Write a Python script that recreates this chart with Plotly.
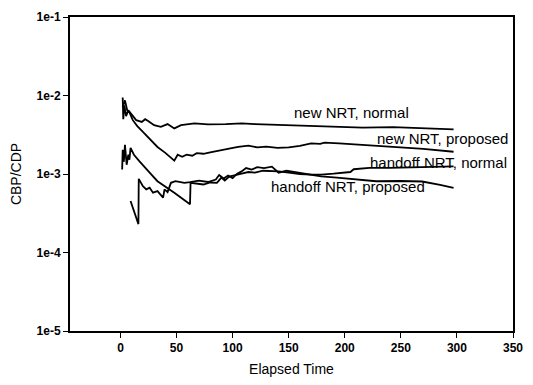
import plotly.graph_objects as go

# Blocking probability ratio (CBP/CDP) over elapsed time for four schemes
t_new_normal = [2, 2.5, 3.5, 5, 7, 10, 14, 19, 22, 25, 30, 36, 42, 48, 54, 66, 78,
                94, 108, 120, 138, 155, 173, 190, 216, 243, 269, 297]
v_new_normal = [9.45e-3, 5.0e-3, 7.5e-3, 5.45e-3, 6.48e-3, 5.77e-3, 4.85e-3, 4.61e-3,
                4.99e-3, 4.71e-3, 4.19e-3, 3.99e-3, 4.32e-3, 3.81e-3, 4.19e-3, 4.41e-3,
                4.28e-3, 4.32e-3, 4.41e-3, 4.32e-3, 4.25e-3, 4.13e-3, 4.07e-3, 3.99e-3,
                3.90e-3, 3.96e-3, 3.85e-3, 3.70e-3]

t_new_prop = [2, 4, 6, 8, 11, 15, 20, 26, 33, 40, 46, 48, 51, 55, 59, 64, 68, 74, 80,
              86, 92, 98, 105, 114, 122, 130, 140, 150, 160, 170, 178, 182, 195, 210,
              230, 250, 270, 297]
v_new_prop = [7.07e-3, 8.66e-3, 6.48e-3, 6.11e-3, 4.85e-3, 4.07e-3, 3.45e-3, 2.79e-3,
              2.21e-3, 1.86e-3, 1.56e-3, 1.48e-3, 1.76e-3, 1.66e-3, 1.76e-3, 1.71e-3,
              1.84e-3, 1.81e-3, 1.88e-3, 1.97e-3, 2.03e-3, 2.12e-3, 2.21e-3, 2.30e-3,
              2.18e-3, 2.23e-3, 2.15e-3, 2.18e-3, 2.28e-3, 2.46e-3, 2.42e-3, 2.51e-3,
              2.45e-3, 2.38e-3, 2.28e-3, 2.21e-3, 2.09e-3, 1.92e-3]

t_ho_normal = [1.5, 2, 3, 4, 5.5, 7, 8, 9, 12, 14, 17, 25, 33, 48, 62, 62.5, 68, 74,
               80, 86, 90, 93, 97, 103, 108, 114, 120, 127, 134, 141, 150, 160, 170,
               179, 190, 200, 205, 208, 215, 222, 240, 260, 280, 297]
v_ho_normal = [1.14e-3, 2.03e-3, 1.43e-3, 2.35e-3, 1.31e-3, 1.76e-3, 1.52e-3, 2.15e-3,
               1.76e-3, 1.61e-3, 1.45e-3, 1.08e-3, 8.09e-4, 5.78e-4, 4.11e-4, 7.72e-4,
               7.57e-4, 7.35e-4, 7.79e-4, 7.72e-4, 9.01e-4, 8.25e-4, 9.27e-4, 9.83e-4,
               1.01e-3, 1.06e-3, 1.04e-3, 1.10e-3, 1.09e-3, 1.08e-3, 1.04e-3, 9.97e-4,
               9.83e-4, 9.83e-4, 1.01e-3, 1.04e-3, 1.06e-3, 1.15e-3, 1.17e-3, 1.20e-3,
               1.20e-3, 1.22e-3, 1.24e-3, 1.25e-3]

t_ho_prop = [9, 12, 16, 16.3, 20, 23, 26, 29, 33, 38, 39.3, 42, 45, 49, 57, 62, 70, 78,
             85, 88, 92, 96, 100, 104, 108, 112, 117, 122, 128, 135, 141, 148, 155, 165,
             179, 193, 210, 228, 250, 269, 285, 297]
v_ho_prop = [4.53e-4, 3.36e-4, 2.30e-4, 8.67e-4, 7.00e-4, 6.36e-4, 6.68e-4, 5.78e-4,
             6.05e-4, 5.00e-4, 6.36e-4, 5.88e-4, 7.72e-4, 8.09e-4, 7.72e-4, 7.86e-4,
             8.25e-4, 7.91e-4, 8.50e-4, 9.69e-4, 8.75e-4, 9.54e-4, 8.88e-4, 1.01e-3,
             1.08e-3, 1.19e-3, 1.14e-3, 1.22e-3, 1.19e-3, 1.24e-3, 1.04e-3, 1.10e-3,
             1.06e-3, 1.01e-3, 9.35e-4, 9.01e-4, 8.63e-4, 8.09e-4, 8.14e-4, 8.02e-4,
             7.25e-4, 6.64e-4]

series = [
    ("new NRT, normal", t_new_normal, v_new_normal),
    ("new NRT, proposed", t_new_prop, v_new_prop),
    ("handoff NRT, normal", t_ho_normal, v_ho_normal),
    ("handoff NRT, proposed", t_ho_prop, v_ho_prop),
]

# Curve labels: (text, left x, log10 y)
labels = [
    ("new NRT, normal", 153, -2.214),
    ("new NRT, proposed", 227, -2.554),
    ("handoff NRT, normal", 221, -2.856),
    ("handoff NRT, proposed", 132, -3.159),
]

y_ticks = [1e-5, 1e-4, 1e-3, 1e-2, 1e-1]
y_ticktext = ["1e-5", "1e-4", "1e-3", "1e-2", "1e-1"]
x_ticks = [0, 50, 100, 150, 200, 250, 300, 350]

fig = go.Figure()
for name, t, v in series:
    fig.add_trace(go.Scatter(x=t, y=v, mode="lines", name=name,
                             line=dict(color="black", width=1.8)))

for text, x, y in labels:
    fig.add_annotation(x=x, y=y, text=text, showarrow=False, xanchor="left",
                       yanchor="middle",
                       font=dict(family="Liberation Sans, Arial", size=15, color="black"))

axis_common = dict(showline=True, linecolor="black", linewidth=2, mirror=True,
                   ticks="outside", ticklen=5, tickcolor="black", showgrid=False,
                   zeroline=False)

fig.update_layout(
    width=533, height=385,
    margin=dict(l=70, r=10, t=16, b=52),
    paper_bgcolor="white", plot_bgcolor="white",
    showlegend=False,
    font=dict(family="Liberation Sans, Arial", color="black"),
    xaxis=dict(range=[-45, 350], tickvals=x_ticks,
               tickfont=dict(size=12, weight="bold"),
               title=dict(text="Elapsed Time", font=dict(size=14), standoff=10),
               **axis_common),
    yaxis=dict(type="log", range=[-5, -1], tickvals=y_ticks, ticktext=y_ticktext,
               tickfont=dict(size=12, weight="bold"),
               title=dict(text="CBP/CDP", font=dict(size=14), standoff=12),
               **axis_common),
)

fig.write_html("out.html")
